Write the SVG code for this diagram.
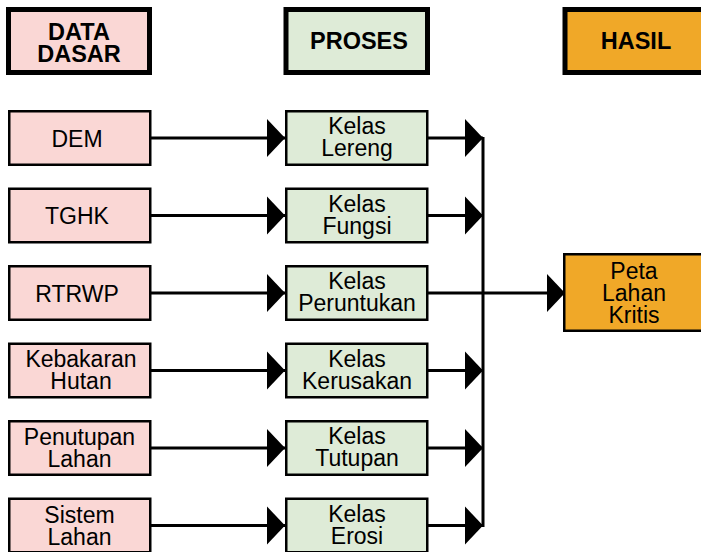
<svg xmlns="http://www.w3.org/2000/svg" width="701" height="552" viewBox="0 0 701 552">
<defs>
<style>
.src{fill:#FAD7D5;stroke:#000;stroke-width:2.5}
.proc{fill:#DEEBD7;stroke:#000;stroke-width:2.5}
.res{fill:#F0A828;stroke:#000;stroke-width:2.5}
.hdr{stroke-width:5}
text{font-family:"Liberation Sans",Arial,sans-serif;font-size:23px;fill:#000;text-anchor:middle}
.b{font-weight:bold;font-size:23.5px}
.con{fill:none;stroke:#000;stroke-width:3}
</style>
<marker id="arr" markerUnits="userSpaceOnUse" markerWidth="19" markerHeight="40" refX="18" refY="19.5" orient="auto" viewBox="0 0 19 40">
<path d="M0,0.5 L18,19.5 L0,38.5 Z" fill="#000"/>
</marker>
</defs>
<rect width="701" height="552" fill="#fff"/>
<g id="connectors">
<path class="con" d="M151,138 H285" marker-end="url(#arr)"/>
<path class="con" d="M151,215.5 H285" marker-end="url(#arr)"/>
<path class="con" d="M151,293 H285" marker-end="url(#arr)"/>
<path class="con" d="M151,370.5 H285" marker-end="url(#arr)"/>
<path class="con" d="M151,448 H285" marker-end="url(#arr)"/>
<path class="con" d="M151,525.5 H285" marker-end="url(#arr)"/>
<path class="con" d="M428,138 H483" marker-end="url(#arr)"/>
<path class="con" d="M428,215.5 H483" marker-end="url(#arr)"/>
<path class="con" d="M428,370.5 H483" marker-end="url(#arr)"/>
<path class="con" d="M428,448 H483" marker-end="url(#arr)"/>
<path class="con" d="M428,525.5 H483" marker-end="url(#arr)"/>
<path class="con" d="M483,137 V527"/>
<path class="con" d="M428,293 H565" marker-end="url(#arr)"/>
</g>
<g id="hdr-data">
<rect class="src hdr" x="8.5" y="9.5" width="141" height="63"/>
<text class="b" x="79" y="40">DATA</text>
<text class="b" x="79" y="61.5">DASAR</text>
</g>
<g id="hdr-proses">
<rect class="proc hdr" x="286" y="9.5" width="141.5" height="63"/>
<text class="b" x="359" y="49">PROSES</text>
</g>
<g id="hdr-hasil">
<rect class="res hdr" x="565" y="9.5" width="150" height="63"/>
<text class="b" x="636" y="49">HASIL</text>
</g>
<g id="dem">
<rect class="src" x="9.25" y="111.25" width="141" height="53.5"/>
<text x="77" y="146.5">DEM</text>
</g>
<g id="tghk">
<rect class="src" x="9.25" y="188.75" width="141" height="53.5"/>
<text x="77" y="224">TGHK</text>
</g>
<g id="rtrwp">
<rect class="src" x="9.25" y="266.25" width="141" height="53.5"/>
<text x="77" y="301.5">RTRWP</text>
</g>
<g id="kebakaran">
<rect class="src" x="9.25" y="343.75" width="141" height="53.5"/>
<text x="81" y="367">Kebakaran</text>
<text x="81" y="389">Hutan</text>
</g>
<g id="penutupan">
<rect class="src" x="9.25" y="421.25" width="141" height="53.5"/>
<text x="79.5" y="444.5">Penutupan</text>
<text x="79.5" y="466.5">Lahan</text>
</g>
<g id="sistem">
<rect class="src" x="9.25" y="498.75" width="141" height="53.5"/>
<text x="79.5" y="522.5">Sistem</text>
<text x="79.5" y="544.5">Lahan</text>
</g>
<g id="lereng">
<rect class="proc" x="286.25" y="111.25" width="141" height="53.5"/>
<text x="357" y="134">Kelas</text>
<text x="357" y="156">Lereng</text>
</g>
<g id="fungsi">
<rect class="proc" x="286.25" y="188.75" width="141" height="53.5"/>
<text x="357" y="211.5">Kelas</text>
<text x="357" y="233.5">Fungsi</text>
</g>
<g id="peruntukan">
<rect class="proc" x="286.25" y="266.25" width="141" height="53.5"/>
<text x="357" y="289">Kelas</text>
<text x="357" y="311">Peruntukan</text>
</g>
<g id="kerusakan">
<rect class="proc" x="286.25" y="343.75" width="141" height="53.5"/>
<text x="357" y="366.5">Kelas</text>
<text x="357" y="388.5">Kerusakan</text>
</g>
<g id="tutupan">
<rect class="proc" x="286.25" y="421.25" width="141" height="53.5"/>
<text x="357" y="444">Kelas</text>
<text x="357" y="466">Tutupan</text>
</g>
<g id="erosi">
<rect class="proc" x="286.25" y="498.75" width="141" height="53.5"/>
<text x="357" y="521.5">Kelas</text>
<text x="357" y="543.5">Erosi</text>
</g>
<g id="peta">
<rect class="res" x="564.25" y="254.25" width="145" height="76.5"/>
<text x="634" y="278.5">Peta</text>
<text x="634" y="300.5">Lahan</text>
<text x="634" y="322.5">Kritis</text>
</g>
</svg>
